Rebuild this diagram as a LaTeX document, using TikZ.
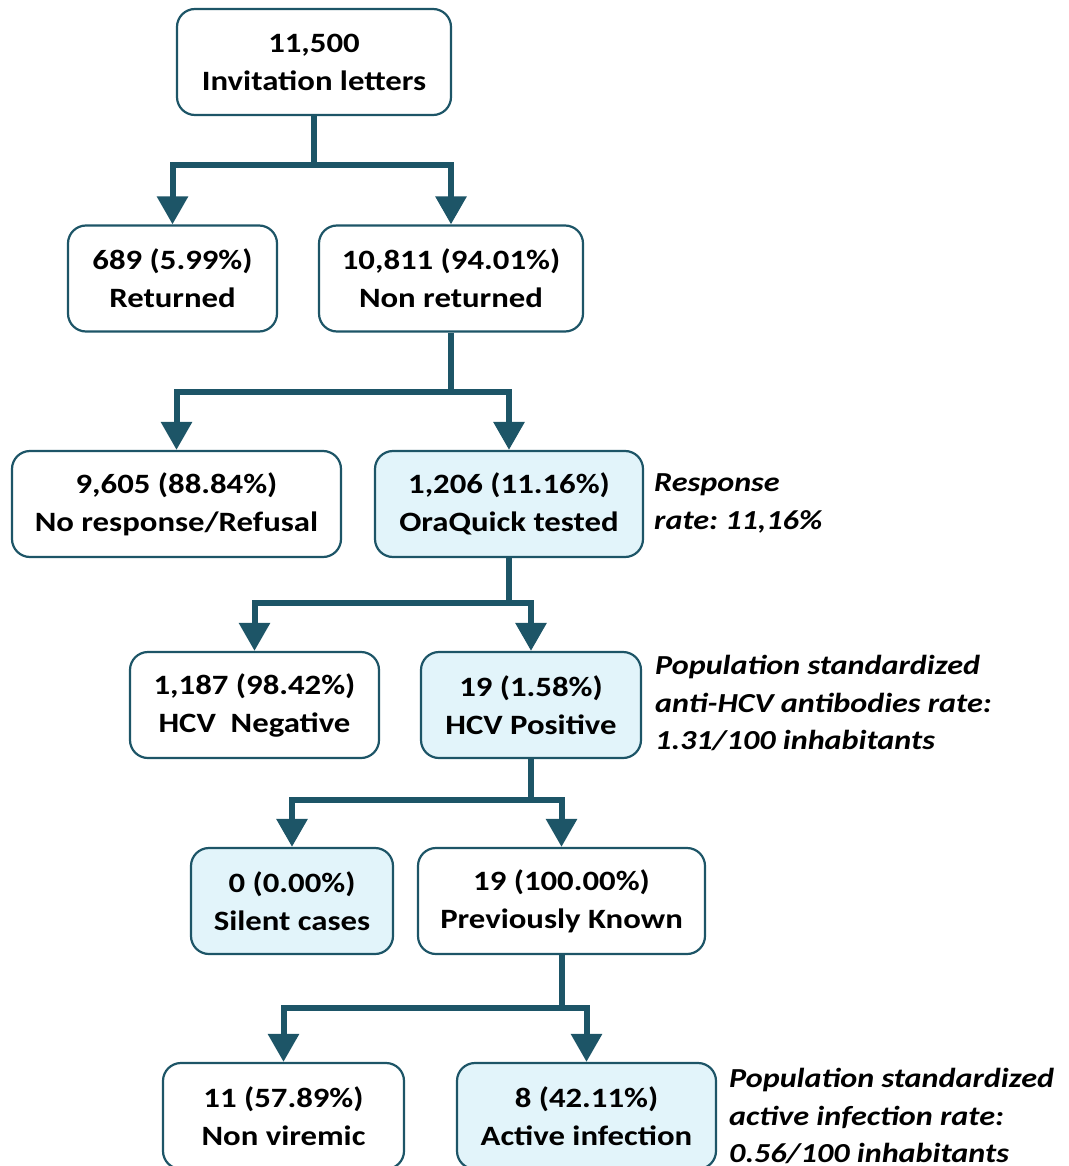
\documentclass[tikz,border=0pt]{standalone}
\usepackage{fontspec}
\setmainfont{Carlito}[FakeStretch=1.17]
\usetikzlibrary{arrows.meta}
\definecolor{teal}{HTML}{1D5567}
\definecolor{paleblue}{HTML}{E2F4FA}
\frenchspacing
\begin{document}
\begin{tikzpicture}
  [x=1pt,y=-1pt,
   every node/.style={font=\fontsize{28}{38}\selectfont\bfseries},
   box/.style={draw=teal,line width=2.2pt,rounded corners=18pt,fill=white,align=center,minimum height=106pt,inner sep=0pt},
   hit/.style={box,fill=paleblue},
   note/.style={anchor=west,align=left,inner sep=0pt,font=\fontsize{27.5}{37.5}\selectfont\bfseries\itshape},
   link/.style={draw=teal,line width=6pt,-{Triangle[width=30pt,length=28pt]}}]
  \useasboundingbox (0,0) rectangle (1068,1166);

  \node (letters)[box,minimum width=274pt] at (314,62) {11,500\\Invitation letters};
  \node (ret)[box,minimum width=209pt] at (172.5,278.5) {689 (5.99\%)\\Returned};
  \node (nonret)[box,minimum width=264pt] at (451,278.5) {10,811 (94.01\%)\\Non returned};
  \node (refusal)[box,minimum width=329pt] at (176.5,504) {9,605 (88.84\%)\\No response/Refusal};
  \node (tested)[hit,minimum width=268pt] at (509,504) {1,206 (11.16\%)\\OraQuick tested};
  \node (neg)[box,minimum width=249pt] at (254.5,705) {1,187 (98.42\%)\\HCV\ \ Negative};
  \node (pos)[hit,minimum width=220pt] at (531,705) {19 (1.58\%)\\HCV\ Positive};
  \node (silent)[hit,minimum width=202pt] at (292,901) {0 (0.00\%)\\Silent cases};
  \node (known)[box,minimum width=287pt] at (561.5,901) {19 (100.00\%)\\Previously Known};
  \node (nonvir)[box,minimum width=241pt] at (283.5,1116) {11 (57.89\%)\\Non viremic};
  \node (active)[hit,minimum width=259pt] at (586.5,1116) {8 (42.11\%)\\Active infection};

  \node (rate1)[note] at (654,503.5) {Response\\rate: 11,16\%};
  \node (rate2)[note] at (655,703) {Population standardized\\anti-HCV antibodies\ rate:\\1.31/100 inhabitants};
  \node (rate3)[note] at (729,1116) {Population standardized\\active infection rate:\\0.56/100 inhabitants};

  \coordinate (j1) at (314,165);
  \coordinate (j2) at (451,392);
  \coordinate (j3) at (509,603);
  \coordinate (j4) at (531,800);
  \coordinate (j5) at (561.5,1008);

  \foreach \from/\to in {letters/j1,nonret/j2,tested/j3,pos/j4,known/j5}
    \draw[draw=teal,line width=6pt] (\from.south) -- (\to);

  \foreach \from/\to in {j1/ret,j1/nonret,j2/refusal,j2/tested,j3/neg,j3/pos,j4/silent,j4/known,j5/nonvir,j5/active}
    \draw[link] (\from) -| (\to.north);

\end{tikzpicture}
\end{document}
